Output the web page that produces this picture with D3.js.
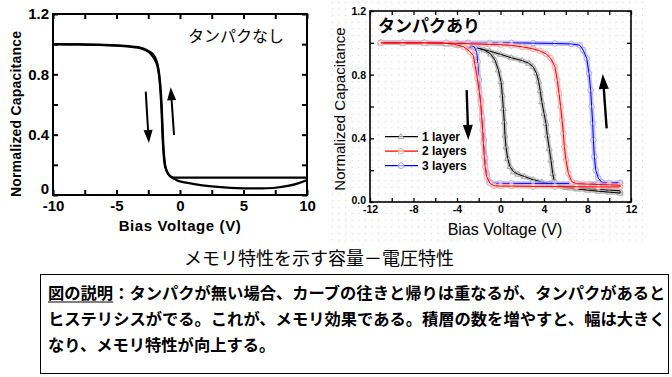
<!DOCTYPE html>
<html>
<head>
<meta charset="utf-8">
<script src="https://cdn.jsdelivr.net/npm/d3@7"></script>
<style>
body { margin: 0; background: #fff; }
svg { display: block; }
</style>
</head>
<body>
<div id="chart"></div>
<script>
// left panel: no protein (two sweeps, nearly overlapping)
const noProteinFwd = [[-10,1.0],[-8,0.998],[-6,0.994],[-5,0.99],[-4,0.983],[-3,0.97],[-2.5,0.95],[-2.2,0.925],[-2,0.9],[-1.8,0.86],[-1.65,0.79],[-1.55,0.7],[-1.45,0.55],[-1.38,0.4],[-1.3,0.28],[-1.18,0.19],[-1.0,0.15],[-0.7,0.12],[-0.3,0.1],[0,0.09],[1,0.074],[2.5,0.057],[4,0.047],[5,0.044],[6.5,0.044],[7.5,0.048],[8.5,0.06],[9.3,0.077],[10,0.1]];
const noProteinRev = [[10,0.115],[5,0.115],[0,0.115],[-0.5,0.116],[-0.8,0.125],[-1.0,0.15],[-1.15,0.19],[-1.27,0.28],[-1.35,0.4],[-1.42,0.55],[-1.52,0.7],[-1.62,0.79],[-1.75,0.86],[-1.95,0.91],[-2.2,0.94],[-2.6,0.96],[-3,0.975],[-4,0.987],[-5,0.992],[-6,0.995],[-8,0.998],[-10,1.0]];

// right panel: with protein, loops (up-going branch then return branch)
const oneLayer = [[-11,1.0],[-9,1.0],[-7,0.998],[-5,0.993],[-4,0.985],[-3,0.975],[-2,0.965],[-1,0.948],[0,0.928],[1,0.906],[2,0.888],[2.6,0.872],[3.0,0.85],[3.3,0.81],[3.5,0.76],[3.65,0.70],[3.8,0.63],[4.0,0.557],[4.18,0.494],[4.3,0.42],[4.48,0.337],[4.64,0.264],[4.8,0.18],[4.92,0.138],[5.1,0.105],[6,0.09],[7,0.082],[8,0.075],[9,0.068],[10,0.062],[11,0.056],
  [11,0.07],[10,0.075],[9,0.08],[8,0.085],[7,0.09],[6,0.097],[5,0.11],[4.5,0.115],[3.8,0.125],[3,0.14],[2.2,0.16],[1.6,0.175],[1.2,0.19],[0.87,0.222],[0.66,0.274],[0.5,0.347],[0.41,0.42],[0.35,0.504],[0.26,0.588],[0.17,0.672],[0.05,0.756],[-0.2,0.83],[-0.51,0.892],[-0.9,0.93],[-1.5,0.955],[-2.5,0.975],[-3.5,0.988],[-5,0.995],[-7,0.999],[-9,1.0],[-11,1.0]];
const twoLayers = [[-11,1.0],[-9,1.0],[-7,1.0],[-5,0.998],[-3,0.995],[-1,0.99],[0,0.988],[1,0.984],[2,0.975],[3,0.962],[3.6,0.95],[4.2,0.93],[4.6,0.905],[5.0,0.85],[5.22,0.766],[5.38,0.683],[5.53,0.6],[5.66,0.515],[5.78,0.43],[5.87,0.347],[6.02,0.264],[6.24,0.18],[6.55,0.128],[7,0.115],[8,0.112],[9,0.11],[10,0.108],[11,0.105],
  [11,0.095],[9,0.095],[7,0.096],[5,0.097],[3,0.098],[1,0.1],[0,0.1],[-0.6,0.102],[-0.97,0.117],[-1.27,0.159],[-1.42,0.222],[-1.49,0.285],[-1.58,0.369],[-1.64,0.452],[-1.73,0.536],[-1.82,0.62],[-1.95,0.693],[-2.13,0.777],[-2.34,0.86],[-2.5,0.92],[-2.8,0.944],[-3.4,0.976],[-4.2,0.99],[-5,0.998],[-7,1.0],[-9,1.0],[-11,1.0]];
const threeLayers = [[-11,1.0],[-9,1.0],[-7,1.0],[-5,1.0],[-3,1.0],[-1,1.0],[1,1.0],[3,0.998],[5,0.996],[6.5,0.993],[7.3,0.985],[7.6,0.955],[7.93,0.902],[8.14,0.808],[8.29,0.703],[8.38,0.6],[8.48,0.494],[8.54,0.39],[8.63,0.285],[8.76,0.2],[9.0,0.149],[9.3,0.125],[10,0.12],[11,0.12],
  [11,0.118],[9,0.118],[7,0.117],[5,0.117],[3,0.117],[1,0.117],[0,0.117],[-0.8,0.118],[-1.03,0.128],[-1.27,0.18],[-1.4,0.274],[-1.52,0.39],[-1.67,0.515],[-1.82,0.64],[-1.98,0.766],[-2.1,0.881],[-2.19,0.94],[-2.4,0.975],[-3,0.99],[-4,0.997],[-5,1.0],[-7,1.0],[-9,1.0],[-11,1.0]];

const seriesNames = ["1 layer", "2 layers", "3 layers"];

const leftXTicks = [-10, -7.5, -5, -2.5, 0, 2.5, 5, 7.5, 10];
const leftXLabels = [-10, -5, 0, 5, 10];
const rightXTicks = [-12, -10, -8, -6, -4, -2, 0, 2, 4, 6, 8, 10, 12];
const rightXLabels = [-12, -8, -4, 0, 4, 8, 12];
const yTicks = [0, 0.2, 0.4, 0.6, 0.8, 1.0, 1.2];
const yLabels = [0, 0.4, 0.8, 1.2];

const caption = "メモリ特性を示す容量－電圧特性";
const noteHead = "図の説明";
const noteLines = [
  "図の説明：タンパクが無い場合、カーブの往きと帰りは重なるが、タンパクがあると",
  "ヒステリシスがでる。これが、メモリ効果である。積層の数を増やすと、幅は大きく",
  "なり、メモリ特性が向上する。"
];

const latin = "'Liberation Sans', Arial, sans-serif";
const jp = "'Noto Sans CJK JP', sans-serif";

const svg = d3.select("#chart").append("svg")
  .attr("width", 672)
  .attr("height", 377);

// dotted backdrop behind right panel
const defs = svg.append("defs");
defs.append("pattern")
  .attr("id", "dots")
  .attr("patternUnits", "userSpaceOnUse")
  .attr("width", 6.6).attr("height", 6.6)
  .append("rect")
  .attr("x", 2).attr("y", 2).attr("width", 1).attr("height", 1)
  .attr("fill", "#c4c4c4");
svg.append("rect")
  .attr("x", 330).attr("y", 0).attr("width", 313).attr("height", 242)
  .attr("fill", "url(#dots)");

function arrow(g, x, y, p1, p2, sw, hl, hw) {
  const x1 = x(p1[0]), y1 = y(p1[1]), x2 = x(p2[0]), y2 = y(p2[1]);
  const dx = x2 - x1, dy = y2 - y1, len = Math.hypot(dx, dy);
  const ux = dx / len, uy = dy / len;
  const bx = x2 - ux * hl, by = y2 - uy * hl;
  g.append("line")
    .attr("x1", x1).attr("y1", y1).attr("x2", bx + ux).attr("y2", by + uy)
    .attr("stroke", "#000").attr("stroke-width", sw);
  g.append("path")
    .attr("d", `M${x2},${y2}L${bx - uy * hw},${by + ux * hw}L${bx + uy * hw},${by - ux * hw}Z`)
    .attr("fill", "#000");
}

function drawAxes(g, x, y, xTicks, xLabels, tickLen, fmtY, fontSize, bold, padX, padY, lift) {
  const fx = d => xLabels.includes(d) ? String(d) : "";
  const fy = d => yLabels.includes(d) ? fmtY(d) : "";
  const [x0, x1] = x.range(), [y0, y1] = y.range();
  const parts = [
    g.append("g").attr("transform", `translate(0,${y0})`)
      .call(d3.axisBottom(x).tickValues(xTicks).tickFormat(fx).tickSize(-tickLen).tickPadding(padX)),
    g.append("g").attr("transform", `translate(0,${y1})`)
      .call(d3.axisTop(x).tickValues(xTicks).tickFormat("").tickSize(-tickLen)),
    g.append("g").attr("transform", `translate(${x0},0)`)
      .call(d3.axisLeft(y).tickValues(yTicks).tickFormat(fy).tickSize(-tickLen).tickPadding(padY)),
    g.append("g").attr("transform", `translate(${x1},0)`)
      .call(d3.axisRight(y).tickValues(yTicks).tickFormat("").tickSize(-tickLen))
  ];
  parts.forEach(a => {
    a.select(".domain").remove();
    a.selectAll("text")
      .attr("font-family", latin)
      .attr("font-size", fontSize)
      .attr("font-weight", bold ? "bold" : "normal")
      .attr("fill", "#000");
  });
  // lift the zero label so it clears the first x label
  parts[2].selectAll("g.tick").filter(d => d === 0).select("text").attr("y", -lift);
}

// ---------- left panel ----------
const xL = d3.scaleLinear().domain([-10, 10]).range([53, 307]);
const yL = d3.scaleLinear().domain([0, 1.2]).range([195, 14]);
const gL = svg.append("g");

const lineL = d3.line()
  .x(d => xL(d[0]))
  .y(d => yL(d[1]))
  .curve(d3.curveCatmullRom.alpha(0.5));

[noProteinFwd, noProteinRev].forEach(s => {
  gL.append("path")
    .datum(s)
    .attr("d", lineL)
    .attr("fill", "none")
    .attr("stroke", "#000")
    .attr("stroke-width", 2.2);
});

drawAxes(gL, xL, yL, leftXTicks, leftXLabels, 5, d3.format(".1~f"), 15, true, 5, 4, 6);
gL.selectAll("g.tick line").attr("stroke-width", 2);
gL.append("rect")
  .attr("x", 53).attr("y", 14).attr("width", 254).attr("height", 181)
  .attr("fill", "none").attr("stroke", "#000").attr("stroke-width", 2);

arrow(gL, xL, yL, [-2.7, 0.685], [-2.45, 0.345], 2, 13, 4.5);
arrow(gL, xL, yL, [-0.47, 0.398], [-0.73, 0.714], 2, 13, 4.5);

gL.append("text")
  .attr("x", 188).attr("y", 42)
  .attr("font-family", jp).attr("font-size", 16)
  .text("タンパクなし");

gL.append("text")
  .attr("x", 180).attr("y", 231)
  .attr("text-anchor", "middle")
  .attr("font-family", latin).attr("font-size", 15).attr("font-weight", "bold")
  .attr("letter-spacing", 0.6)
  .text("Bias Voltage (V)");
gL.append("text")
  .attr("transform", "translate(21,114) rotate(-90)")
  .attr("text-anchor", "middle")
  .attr("font-family", latin).attr("font-size", 14).attr("font-weight", "bold")
  .attr("letter-spacing", 0.2)
  .text("Normalized Capacitance");

// ---------- right panel ----------
const xR = d3.scaleLinear().domain([-12, 12]).range([370, 631]);
const yR = d3.scaleLinear().domain([0, 1.2]).range([202, 11]);
const gR = svg.append("g");

const lineR = d3.line()
  .x(d => xR(d[0]))
  .y(d => yR(d[1]));

const styles = [
  { data: oneLayer, line: "#000", pale: "#a8a8a8", shape: "tri" },
  { data: twoLayers, line: "#ff0000", pale: "#f5aaaa", shape: "circ" },
  { data: threeLayers, line: "#0000ff", pale: "#aaaaf5", shape: "circ" }
];

function marker(g, shape, cx, cy, color) {
  if (shape === "tri") {
    g.append("path")
      .attr("d", `M${cx},${cy - 3.2}L${cx + 3},${cy + 2}L${cx - 3},${cy + 2}Z`)
      .attr("fill", "#fff").attr("fill-opacity", 0.6)
      .attr("stroke", color).attr("stroke-width", 1);
  } else {
    g.append("circle")
      .attr("cx", cx).attr("cy", cy).attr("r", 2.8)
      .attr("fill", "#fff").attr("fill-opacity", 0.6)
      .attr("stroke", color).attr("stroke-width", 1);
  }
}

[styles[0], styles[2], styles[1]].forEach(st => {
  gR.append("path")
    .datum(st.data)
    .attr("d", lineR)
    .attr("fill", "none")
    .attr("stroke", st.pale)
    .attr("stroke-opacity", 0.7)
    .attr("stroke-width", 4.5);
  st.data.forEach(d => marker(gR, st.shape, xR(d[0]), yR(d[1]), st.pale));
  gR.append("path")
    .datum(st.data)
    .attr("d", lineR)
    .attr("fill", "none")
    .attr("stroke", st.line)
    .attr("stroke-width", 1);
});

drawAxes(gR, xR, yR, rightXTicks, rightXLabels, 4, d3.format(".1f"), 10.5, true, 4, 4, 2);
gR.selectAll("g.tick line").attr("stroke-width", 1.3);
gR.append("rect")
  .attr("x", 370).attr("y", 11).attr("width", 261).attr("height", 191)
  .attr("fill", "none").attr("stroke", "#000").attr("stroke-width", 1.6);

// legend
styles.forEach((st, i) => {
  const ly = 136.7 + i * 14.5;
  gR.append("line")
    .attr("x1", 385).attr("x2", 418).attr("y1", ly).attr("y2", ly)
    .attr("stroke", st.line).attr("stroke-width", 1.2);
  marker(gR, st.shape, 401, ly, st.pale);
  gR.append("text")
    .attr("x", 422).attr("y", ly + 4)
    .attr("font-family", latin).attr("font-size", 12).attr("font-weight", "bold")
    .text(seriesNames[i]);
});

arrow(gR, xR, yR, [-3.11, 0.703], [-2.96, 0.39], 2.4, 15, 5);
arrow(gR, xR, yR, [9.76, 0.463], [9.4, 0.804], 2.4, 15, 5);

gR.append("text")
  .attr("x", 378).attr("y", 32)
  .attr("font-family", jp).attr("font-size", 17).attr("font-weight", "bold")
  .text("タンパクあり");

gR.append("text")
  .attr("x", 505).attr("y", 235)
  .attr("text-anchor", "middle")
  .attr("font-family", latin).attr("font-size", 16)
  .text("Bias Voltage (V)");
gR.append("text")
  .attr("transform", "translate(345,109) rotate(-90)")
  .attr("text-anchor", "middle")
  .attr("font-family", latin).attr("font-size", 15)
  .text("Normalized Capacitance");

// ---------- caption and note ----------
svg.append("text")
  .attr("x", 319).attr("y", 265)
  .attr("text-anchor", "middle")
  .attr("font-family", jp).attr("font-size", 18)
  .text(caption);

svg.append("rect")
  .attr("x", 40.5).attr("y", 274.5).attr("width", 628).attr("height", 99)
  .attr("fill", "none").attr("stroke", "#000").attr("stroke-width", 1);

noteLines.forEach((t, i) => {
  svg.append("text")
    .attr("x", 48).attr("y", 299 + i * 26)
    .attr("font-family", jp).attr("font-size", 16.3).attr("font-weight", "bold")
    .text(t);
});
svg.append("line")
  .attr("x1", 48).attr("x2", 48 + noteHead.length * 16.3)
  .attr("y1", 302).attr("y2", 302)
  .attr("stroke", "#000").attr("stroke-width", 1);
</script>
</body>
</html>
